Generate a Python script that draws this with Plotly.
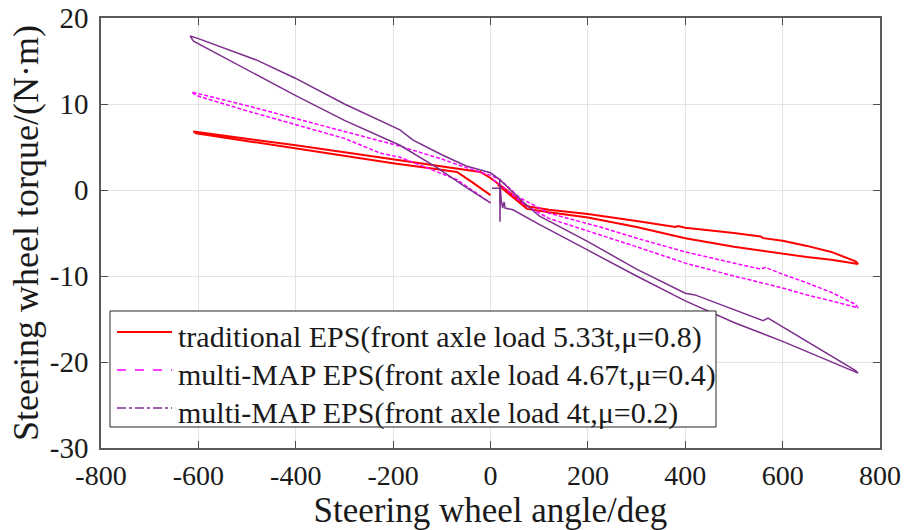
import plotly.graph_objects as go

red_angle = [15, 40, 75, 120, 200, 300, 400, 500, 570, 650, 700, 740, 755,
             750, 700, 650, 600, 560, 555, 500, 400, 385, 380, 300, 200, 120, 75, 40, 0, -21,
             -69, -100, -200, -300, -400, -500, -590, -610,
             -605, -500, -400, -300, -200, -120, -69, -40, 0]
red_torque = [0.6, -0.6, -2.2, -2.6, -3.2, -4.3, -5.6, -6.6, -7.2, -7.8, -8.1, -8.4, -8.6,
              -8.3, -7.2, -6.5, -5.9, -5.6, -5.4, -5.0, -4.4, -4.2, -4.3, -3.6, -2.8, -2.3, -1.9, -0.3, 1.4, 2.1,
              2.5, 2.8, 3.6, 4.4, 5.2, 6.0, 6.7, 6.8,
              6.6, 5.7, 4.8, 4.0, 3.1, 2.5, 2.1, 1.0, -0.6]

pink_angle = [5, 13, 40, 67, 120, 225, 300, 400, 500, 600, 650, 700, 755,
              750, 700, 650, 600, 565, 555, 500, 400, 300, 225, 120, 60, 20, 0, -50, -100, -186,
              -300, -401, -500, -614,
              -605, -500, -401, -300, -227, -186, -145, -69, 0]
pink_torque = [1.2, 0.9, -0.3, -1.6, -3.3, -5.2, -6.6, -8.5, -10.0, -11.4, -12.2, -12.9, -13.7,
               -13.3, -11.9, -10.8, -9.8, -9.0, -9.2, -8.5, -7.2, -5.6, -4.3, -2.7, -0.9, 1.2, 1.7, 2.6, 3.6, 5.1,
               6.8, 8.3, 9.8, 11.4,
               11.0, 9.2, 7.6, 6.0, 4.3, 3.8, 2.9, 1.2, -1.5]

purple_angle = [3, 19, 19, 19.5, 20, 22, 25, 28, 30, 46, 100, 200, 300, 400, 500, 600, 700, 755,
                750, 700, 650, 600, 570, 560, 500, 420, 400, 300, 200, 100, 67, 19, 0,
                -50, -100, -159, -186, -300, -401, -480, -600, -617,
                -610, -500, -401, -300, -186, -110, -50, 0]
purple_torque = [0.2, 0.2, 1.2, -3.7, 0.5, -1.2, -2.1, -1.4, -2.1, -2.3, -4.0, -7.0, -10.0, -12.9, -15.4, -17.6, -20.0, -21.3,
                 -21.0, -19.3, -17.6, -16.0, -14.9, -15.2, -13.9, -12.2, -12.0, -9.2, -6.0, -3.0, -1.4, 1.2, 2.0,
                 2.8, 4.1, 5.8, 7.0, 10.0, 13.0, 15.1, 17.6, 17.9,
                 17.3, 14.0, 11.0, 8.1, 5.2, 2.6, 0.3, -1.5]

series_names = ["traditional EPS(front axle load 5.33t,μ=0.8)",
                "multi-MAP EPS(front axle load 4.67t,μ=0.4)",
                "multi-MAP EPS(front axle load 4t,μ=0.2)"]
x_ticks = [-800, -600, -400, -200, 0, 200, 400, 600, 800]
y_ticks = [-30, -20, -10, 0, 10, 20]

colors = ["#FF0000", "#FF00FF", "#7E2F8E"]
FONT = "Liberation Serif, Times New Roman, serif"

# plot-area geometry in pixels (for the hand-drawn legend box)
W, H = 906, 530
ML, MR, MT, MB = 101, 26, 18, 82
PW, PH = W - ML - MR, H - MT - MB


def px(xp):
    return (xp - ML) / PW


def py(yp):
    return (H - MB - yp) / PH


fig = go.Figure()
data = [(red_angle, red_torque), (pink_angle, pink_torque), (purple_angle, purple_torque)]
plot_dash = ["solid", "4px,2px", "solid"]
plot_w = [2, 1.5, 1.5]
for (xa, ya), c, d, w, n in zip(data, colors, plot_dash, plot_w, series_names):
    fig.add_trace(go.Scatter(x=xa, y=ya, mode="lines", name=n, showlegend=False,
                             line=dict(color=c, width=w, dash=d)))

# legend (box, line samples, labels)
legend_dash = ["solid", "dash", "dashdot"]
legend_w = [2, 1.5, 1.5]
row_line_y = [332, 370, 408]
shapes = [dict(type="rect", xref="paper", yref="paper",
               x0=px(110), x1=px(716), y0=py(427), y1=py(311),
               line=dict(color="#262626", width=1), fillcolor="white", layer="above")]
annotations = []
for name, c, d, w, ly in zip(series_names, colors, legend_dash, legend_w, row_line_y):
    shapes.append(dict(type="line", xref="paper", yref="paper",
                       x0=px(117), x1=px(172), y0=py(ly), y1=py(ly),
                       line=dict(color=c, width=w, dash=d), layer="above"))
    annotations.append(dict(xref="paper", yref="paper", x=px(176), y=py(ly + 5),
                            xanchor="left", yanchor="middle", showarrow=False,
                            text=name, font=dict(family=FONT, size=30, color="#1A1A1A")))

axis_common = dict(showgrid=True, gridcolor="#E3E3E3", gridwidth=1, zeroline=False,
                   showline=True, linecolor="#5A5A5A", linewidth=1.5, mirror="ticks",
                   ticks="inside", ticklen=7, tickcolor="#4D4D4D", tickwidth=1.2,
                   automargin=False)

fig.update_layout(
    width=W, height=H,
    margin=dict(l=ML, r=MR, t=MT, b=MB),
    paper_bgcolor="white", plot_bgcolor="white",
    font=dict(family=FONT, color="#1A1A1A"),
    showlegend=False,
    xaxis=dict(range=[-800, 800], tickvals=x_ticks, ticktext=[str(v) for v in x_ticks],
               ticklabelstandoff=2, tickfont=dict(family=FONT, size=28, color="#1A1A1A"),
               title=dict(text="Steering wheel angle/deg", font=dict(family=FONT, size=35), standoff=6),
               **axis_common),
    yaxis=dict(range=[-30, 20], tickvals=y_ticks, ticktext=[str(v) for v in y_ticks],
               ticklabelstandoff=5, tickfont=dict(family=FONT, size=29, color="#1A1A1A"),
               title=dict(text="Steering wheel torque/(N·m)", font=dict(family=FONT, size=36), standoff=0),
               **axis_common),
    shapes=shapes,
    annotations=annotations,
)

fig.write_html("out.html")
